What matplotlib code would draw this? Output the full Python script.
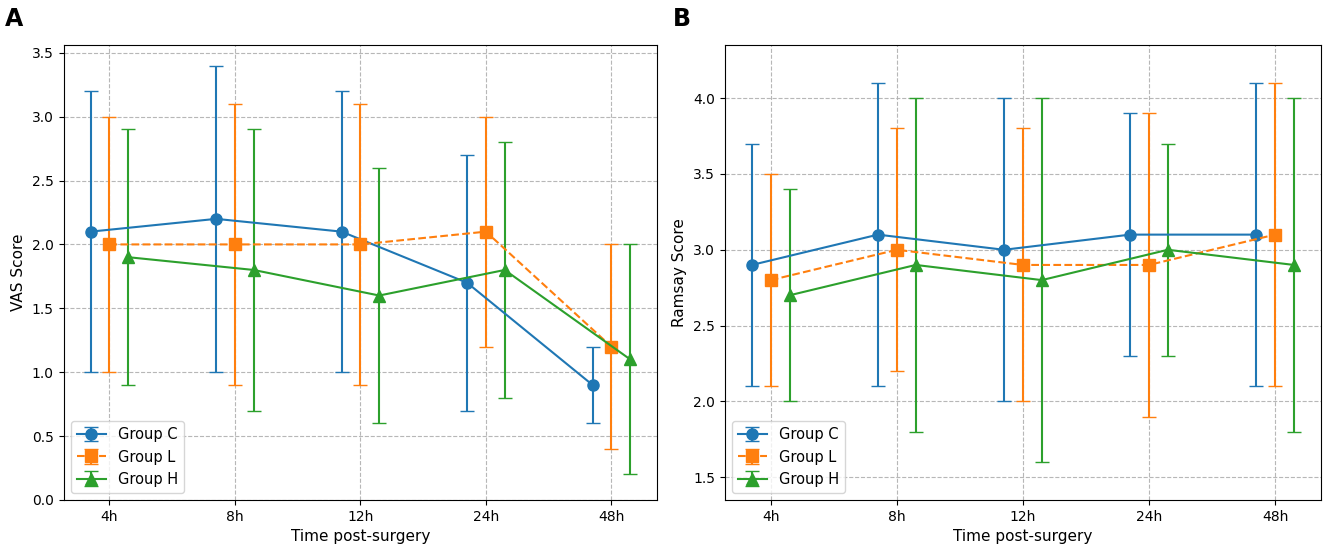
import numpy as np
import matplotlib
matplotlib.use('Agg')
import matplotlib.pyplot as plt

times = ['4h', '8h', '12h', '24h', '48h']
groups = ['Group C', 'Group L', 'Group H']

vas_mean = {
    'Group C': [2.1, 2.2, 2.1, 1.7, 0.9],
    'Group L': [2.0, 2.0, 2.0, 2.1, 1.2],
    'Group H': [1.9, 1.8, 1.6, 1.8, 1.1],
}
vas_sd = {
    'Group C': [1.1, 1.2, 1.1, 1.0, 0.3],
    'Group L': [1.0, 1.1, 1.1, 0.9, 0.8],
    'Group H': [1.0, 1.1, 1.0, 1.0, 0.9],
}
ramsay_mean = {
    'Group C': [2.9, 3.1, 3.0, 3.1, 3.1],
    'Group L': [2.8, 3.0, 2.9, 2.9, 3.1],
    'Group H': [2.7, 2.9, 2.8, 3.0, 2.9],
}
ramsay_sd = {
    'Group C': [0.8, 1.0, 1.0, 0.8, 1.0],
    'Group L': [0.7, 0.8, 0.9, 1.0, 1.0],
    'Group H': [0.7, 1.1, 1.2, 0.7, 1.1],
}

colors = {'Group C': '#1f77b4', 'Group L': '#ff7f0e', 'Group H': '#2ca02c'}
markers = {'Group C': 'o', 'Group L': 's', 'Group H': '^'}
styles = {'Group C': '-', 'Group L': '--', 'Group H': '-'}
offsets = {'Group C': -0.15, 'Group L': 0.0, 'Group H': 0.15}

fig = plt.figure(figsize=(13.25, 5.5), dpi=100)
ax1 = fig.add_axes([0.048, 0.091, 0.448, 0.827])
ax2 = fig.add_axes([0.547, 0.091, 0.450, 0.827])

x = np.arange(len(times))


def draw(ax, means, sds, ylabel):
    for g in groups:
        ax.errorbar(x + offsets[g], means[g], yerr=sds[g], label=g,
                    color=colors[g], marker=markers[g], linestyle=styles[g],
                    markersize=8, capsize=5, linewidth=1.5)
    ax.set_xticks(x)
    ax.set_xticklabels(times)
    ax.set_xlabel('Time post-surgery', fontsize=11)
    ax.set_ylabel(ylabel, fontsize=11)
    ax.grid(True, linestyle='--', color='#b0b0b0', alpha=0.9)
    ax.legend(loc='lower left', fontsize=10.5)


draw(ax1, vas_mean, vas_sd, 'VAS Score')
ax1.set_ylim(0, 3.56)
draw(ax2, ramsay_mean, ramsay_sd, 'Ramsay Score')
ax2.set_ylim(1.35, 4.35)

fig.text(0.004, 0.965, 'A', fontsize=17, fontweight='bold', va='center')
fig.text(0.508, 0.965, 'B', fontsize=17, fontweight='bold', va='center')

fig.savefig('out.png', dpi=100)
